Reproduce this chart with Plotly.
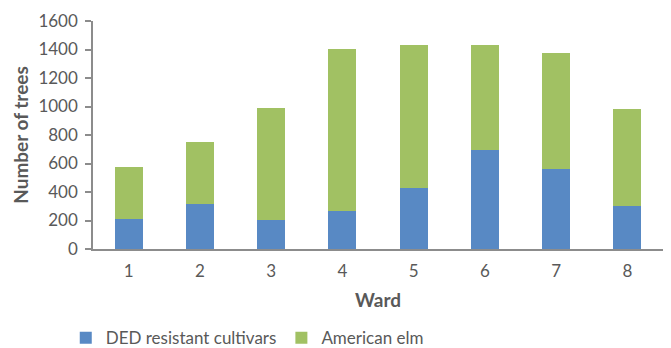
import plotly.graph_objects as go

wards = ["1", "2", "3", "4", "5", "6", "7", "8"]
ded_resistant = [211, 318, 204, 267, 425, 697, 562, 299]
american_elm = [362, 433, 788, 1139, 1009, 737, 811, 686]
y_ticks = [0, 200, 400, 600, 800, 1000, 1200, 1400, 1600]

FONT = "Lato"
GRAY = "#595959"

fig = go.Figure()
fig.add_trace(go.Bar(x=wards, y=ded_resistant, name="DED resistant cultivars",
                     marker=dict(color="#5889C4", line=dict(width=0))))
fig.add_trace(go.Bar(x=wards, y=american_elm, name="American elm",
                     marker=dict(color="#A1C163", line=dict(width=0))))

fig.update_layout(
    barmode="stack",
    bargap=0.607,
    width=671, height=348,
    margin=dict(l=93, r=8, t=21, b=99, autoexpand=False),
    paper_bgcolor="white", plot_bgcolor="white",
    font=dict(family=FONT, color=GRAY, size=16),
    showlegend=True,
    legend=dict(orientation="h", x=0.098, xref="container", xanchor="left",
                y=0.028, yref="container", yanchor="middle",
                font=dict(size=17, color=GRAY), itemwidth=30, traceorder="normal",
                tracegroupgap=0),
)
fig.update_xaxes(
    showline=True, linecolor="#8c8c8c", linewidth=1.5, automargin=False,
    ticks="", showgrid=False, tickfont=dict(size=17, color=GRAY), ticklabelstandoff=6,
    title=dict(text="<b>Ward</b>", font=dict(size=19, color=GRAY), standoff=14),
)
fig.update_yaxes(
    range=[0, 1600], tickvals=y_ticks, showline=True, linecolor="#8c8c8c", linewidth=1.5,
    automargin=False,
    ticks="outside", ticklen=6, tickcolor="#8c8c8c", tickwidth=1.5,
    showgrid=False, zeroline=False, tickfont=dict(size=17, color=GRAY), ticklabelstandoff=4,
    title=dict(text="<b>Number of trees</b>", font=dict(size=19, color=GRAY), standoff=5),
)

fig.write_html("out.html")
